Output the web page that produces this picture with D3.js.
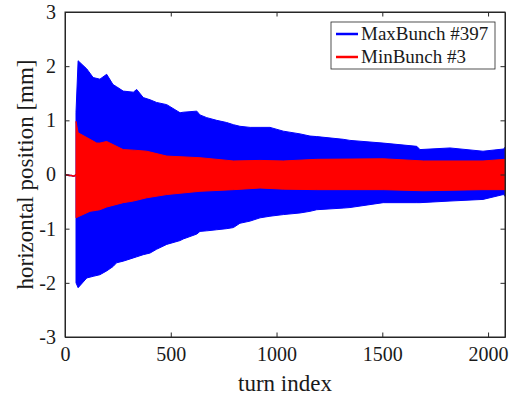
<!DOCTYPE html>
<html lang="en">
<head>
<meta charset="UTF-8">
<title>Bunch oscillation</title>
<script src="https://d3js.org/d3.v7.min.js"></script>
<style>
  body {margin: 0; background: #fff;}
  text {font-family: "Liberation Serif", "Times New Roman", serif; fill: #1a1a1a;}
  .axis path, .axis line {stroke: #262626;}
</style>
</head>
<body>
<div id="chart"></div>
<script>
// turns before the kick (both bunches sit near zero)
var preTurns = [0, 10, 20, 30, 40, 48, 52];
var preValues = [0.0, -0.01, -0.02, -0.02, -0.03, -0.02, 0.0];

// MaxBunch #397 envelope
var maxTurns = [52, 62, 103, 133, 165, 197, 227, 244, 275, 323, 339, 370, 402, 433, 481, 544, 559, 623, 638, 670, 717, 764, 796, 827, 875, 922, 969, 1032, 1111, 1158, 1190, 1315, 1347, 1504, 1663, 1678, 1820, 1976, 2072, 2080];
var maxUpper = [1.15, 2.10, 1.95, 1.79, 1.76, 1.85, 1.66, 1.62, 1.54, 1.52, 1.57, 1.42, 1.38, 1.33, 1.29, 1.14, 1.15, 1.17, 1.10, 1.05, 1.00, 0.96, 0.92, 0.89, 0.87, 0.87, 0.87, 0.80, 0.75, 0.71, 0.70, 0.65, 0.63, 0.58, 0.52, 0.46, 0.49, 0.43, 0.47, 0.50];
var maxLower = [-2.00, -2.09, -1.91, -1.88, -1.85, -1.78, -1.70, -1.63, -1.60, -1.54, -1.52, -1.48, -1.45, -1.38, -1.29, -1.22, -1.19, -1.10, -1.05, -1.04, -1.02, -1.00, -0.98, -0.90, -0.86, -0.80, -0.77, -0.74, -0.71, -0.68, -0.65, -0.62, -0.61, -0.52, -0.52, -0.52, -0.49, -0.46, -0.37, -0.40];

// MinBunch #3 envelope
var minTurns = [52, 62, 118, 150, 165, 197, 275, 323, 386, 481, 638, 796, 922, 1032, 1190, 1504, 1694, 1976, 2080];
var minUpper = [0.98, 0.77, 0.65, 0.58, 0.58, 0.61, 0.46, 0.45, 0.43, 0.34, 0.31, 0.25, 0.26, 0.25, 0.28, 0.29, 0.25, 0.25, 0.28];
var minLower = [-0.80, -0.78, -0.68, -0.66, -0.65, -0.60, -0.52, -0.49, -0.43, -0.37, -0.31, -0.28, -0.25, -0.27, -0.28, -0.28, -0.30, -0.28, -0.28];

var xTicks = [0, 500, 1000, 1500, 2000];
var yTicks = [-3, -2, -1, 0, 1, 2, 3];
var seriesNames = ["MaxBunch #397", "MinBunch #3"];
var seriesColors = ["#0000ff", "#ff0000"];

var W = 509, H = 397;
var margin = {top: 12, right: 4, bottom: 60, left: 65};
var width = W - margin.left - margin.right,
    height = H - margin.top - margin.bottom;

var x = d3.scaleLinear().domain([0, 2080]).range([0, width]);
var y = d3.scaleLinear().domain([-3, 3]).range([height, 0]);

var svg = d3.select("#chart").append("svg")
    .attr("width", W)
    .attr("height", H)
  .append("g")
    .attr("transform", "translate(" + margin.left + "," + margin.top + ")");

function band(turns, up, lo) {
    return turns.map(function(t, i) { return {t: t, up: up[i], lo: lo[i]}; });
}

var area = d3.area()
    .x(function(d) { return x(d.t); })
    .y0(function(d) { return y(d.lo); })
    .y1(function(d) { return y(d.up); });

var preLine = d3.line()
    .x(function(d, i) { return x(preTurns[i]); })
    .y(function(d) { return y(d); });

// blue first, red on top
svg.append("path")
    .attr("d", preLine(preValues))
    .attr("fill", "none")
    .attr("stroke", seriesColors[0])
    .attr("stroke-width", 1.5);

svg.append("path")
    .datum(band(maxTurns, maxUpper, maxLower))
    .attr("d", area)
    .attr("fill", seriesColors[0])
    .attr("stroke", seriesColors[0])
    .attr("stroke-width", 1);

svg.append("path")
    .attr("d", preLine(preValues))
    .attr("fill", "none")
    .attr("stroke", seriesColors[1])
    .attr("stroke-width", 1.5);

svg.append("path")
    .datum(band(minTurns, minUpper, minLower))
    .attr("d", area)
    .attr("fill", seriesColors[1])
    .attr("stroke", seriesColors[1])
    .attr("stroke-width", 1);

// axes box with inward ticks
var tl = 4.5;
var fmt = function(d) { return String(d); };
svg.append("g").attr("class", "axis")
    .attr("transform", "translate(0," + height + ")")
    .call(d3.axisBottom(x).tickValues(xTicks).tickFormat(fmt).tickSizeInner(-tl).tickSizeOuter(0).tickPadding(10))
    .selectAll("text").attr("font-size", "20px");
svg.append("g").attr("class", "axis")
    .call(d3.axisTop(x).tickValues(xTicks).tickSizeInner(-tl).tickSizeOuter(0).tickFormat(""));
svg.append("g").attr("class", "axis")
    .call(d3.axisLeft(y).tickValues(yTicks).tickFormat(fmt).tickSizeInner(-tl).tickSizeOuter(0).tickPadding(9))
    .selectAll("text").attr("font-size", "20px");
svg.append("g").attr("class", "axis")
    .attr("transform", "translate(" + width + ",0)")
    .call(d3.axisRight(y).tickValues(yTicks).tickSizeInner(-tl).tickSizeOuter(0).tickFormat(""));
svg.selectAll(".axis text").attr("font-family", "Liberation Serif").attr("fill", "#1a1a1a");

svg.append("rect")
    .attr("width", width).attr("height", height)
    .attr("fill", "none").attr("stroke", "#262626").attr("stroke-width", 1);

svg.append("text")
    .attr("x", width / 2).attr("y", height + 54)
    .attr("text-anchor", "middle")
    .attr("font-size", "23px")
    .text("turn index");

svg.append("text")
    .attr("transform", "translate(-32," + (height / 2) + ") rotate(-90)")
    .attr("text-anchor", "middle")
    .attr("font-size", "23px")
    .text("horizontal position [mm]");

// legend
var lg = svg.append("g").attr("transform", "translate(" + (331 - margin.left) + "," + (22 - margin.top) + ")");
lg.append("rect").attr("width", 164).attr("height", 47)
    .attr("fill", "#fff").attr("stroke", "#262626").attr("stroke-width", 0.8);
seriesNames.forEach(function(name, i) {
    var ly = 12 + i * 23;
    lg.append("line").attr("x1", 5).attr("x2", 27).attr("y1", ly).attr("y2", ly)
        .attr("stroke", seriesColors[i]).attr("stroke-width", 2.5);
    lg.append("text").attr("x", 30).attr("y", ly + 6)
        .attr("font-size", "19px").text(name);
});
</script>
</body>
</html>
